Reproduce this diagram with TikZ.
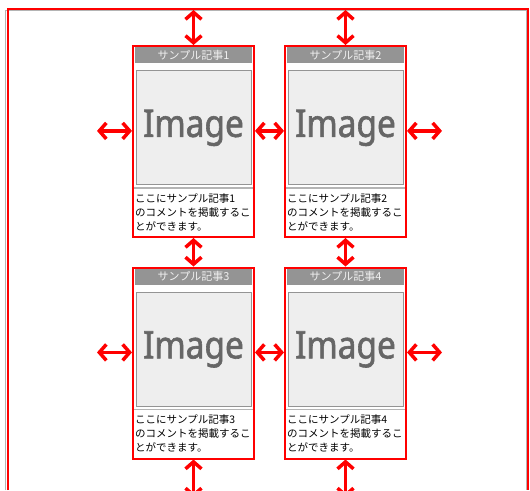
\documentclass[tikz,border=0pt]{standalone}
\usepackage{fontspec}
\setmainfont{Noto Sans}
\newfontfamily\jpfont{Noto Sans CJK JP}
\newfontfamily\imgfont[FakeStretch=0.88, FakeBold=1.6]{Noto Sans}
\usetikzlibrary{arrows.meta, calc, positioning}

\definecolor{headgray}{HTML}{949494}
\definecolor{imgfill}{HTML}{EEEEEE}
\definecolor{imgtext}{HTML}{666666}
\definecolor{linegray}{HTML}{B4B4B4}

% one sample card: name, number, x centre, y top
\newcommand\samplecard[4]{%
  \node[card, anchor=north] (#1) at (#3,#4) {};
  \node[head, below=2pt of #1.north] (#1h) {サンプル記事#2};
  \node[imgbox, below=7pt of #1h.south] (#1i) {Image};
  \draw[sepline] ($(#1.north west)+(2,143)$) -- ($(#1.north east)+(-2,143)$);
  \node[note] (#1t) at ($(#1.north west)+(3,148)$)
    {ここにサンプル記事#2\\のコメントを掲載するこ\\とができます。};
}

\begin{document}
\begin{tikzpicture}[x=1pt, y=-1pt,
    card/.style={draw=red, line width=2pt, minimum width=121pt, minimum height=191pt, inner sep=0pt},
    head/.style={fill=headgray, minimum width=117pt, minimum height=16pt, inner sep=0pt,
      text=white!94!black, font=\jpfont\fontsize{11}{11}\selectfont},
    imgbox/.style={draw=headgray, fill=imgfill, line width=1pt, minimum width=115pt,
      minimum height=114pt, inner sep=0pt, text=imgtext, font=\imgfont\fontsize{38}{38}\selectfont},
    note/.style={anchor=north west, inner sep=0pt, align=left, font=\jpfont\fontsize{10.5}{14}\selectfont},
    sepline/.style={linegray, line width=1.5pt},
    gap/.style={red, line width=3.5pt, {Straight Barb[length=7pt,width=16pt]}-{Straight Barb[length=7pt,width=16pt]}},
]
    \useasboundingbox (0,0) rectangle (530,490);
    \clip (0,0) rectangle (530,490);

    % Outer frame
    \draw[linegray, line width=1pt] (5.5,490) -- (5.5,10.5) -- (526.5,10.5) -- (526.5,490);
    \draw[red, line width=2pt] (7.5,490) -- (7.5,9) -- (528,9) -- (528,490);

    % Cards
    \samplecard{c1}{1}{193.5}{45}
    \samplecard{c2}{2}{345.5}{45}
    \samplecard{c3}{3}{193.5}{266.5}
    \samplecard{c4}{4}{345.5}{266.5}

    % Free ends of the spacing arrows
    \coordinate (t1) at ($(c1.north)+(0,-35)$);
    \coordinate (t2) at ($(c2.north)+(0,-35)$);
    \coordinate (b3) at ($(c3.south)+(0,38)$);
    \coordinate (b4) at ($(c4.south)+(0,38)$);
    \coordinate (l1) at ($(c1.west |- c1i.center)+(-35,3)$);
    \coordinate (l3) at ($(c3.west |- c3i.center)+(-35,3)$);
    \coordinate (r2) at ($(c2.east |- c2i.center)+(35,3)$);
    \coordinate (r4) at ($(c4.east |- c4i.center)+(35,3)$);

    % Vertical spacing
    \draw[gap] (t1) -- (c1.north);
    \draw[gap] (t2) -- (c2.north);
    \draw[gap] (c1.south) -- (c3.north);
    \draw[gap] (c2.south) -- (c4.north);
    \draw[gap] (c3.south) -- (b3);
    \draw[gap] (c4.south) -- (b4);

    % Horizontal spacing
    \draw[gap] (l1) -- (l1 -| c1.west);
    \draw[gap] (l1 -| c1.east) -- (l1 -| c2.west);
    \draw[gap] (r2 -| c2.east) -- (r2);
    \draw[gap] (l3) -- (l3 -| c3.west);
    \draw[gap] (l3 -| c3.east) -- (l3 -| c4.west);
    \draw[gap] (r4 -| c4.east) -- (r4);
\end{tikzpicture}
\end{document}
